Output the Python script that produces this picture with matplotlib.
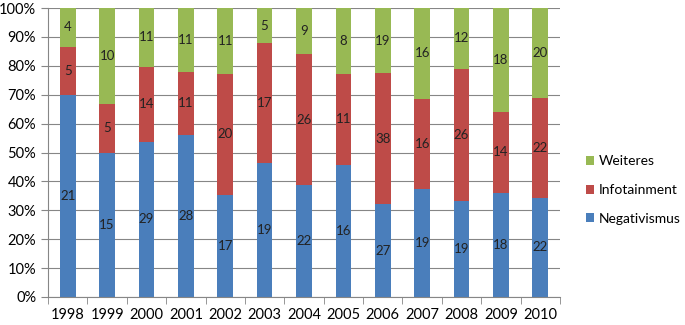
import matplotlib.pyplot as plt
import numpy as np

years = ["1998", "1999", "2000", "2001", "2002", "2003", "2004",
         "2005", "2006", "2007", "2008", "2009", "2010"]
negativismus = [21, 15, 29, 28, 17, 19, 22, 16, 27, 19, 19, 18, 22]
infotainment = [5, 5, 14, 11, 20, 17, 26, 11, 38, 16, 26, 14, 22]
weiteres = [4, 10, 11, 11, 11, 5, 9, 8, 19, 16, 12, 18, 20]

plt.rcParams['font.family'] = ['Lato', 'DejaVu Sans']

fig = plt.figure(figsize=(6.85, 3.25), dpi=100)
ax = fig.add_axes([48 / 685, 28 / 325, 512 / 685, 289 / 325])

neg = np.array(negativismus, dtype=float)
inf = np.array(infotainment, dtype=float)
wei = np.array(weiteres, dtype=float)
tot = neg + inf + wei
x = np.arange(len(years))

series = [("Negativismus", neg, "#4A7EBB"),
          ("Infotainment", inf, "#BE4B48"),
          ("Weiteres", wei, "#98B954")]
bottom = np.zeros(len(years))
handles = []
for name, vals, col in series:
    frac = vals / tot
    b = ax.bar(x, frac, 0.4, bottom=bottom, color=col, label=name, zorder=2)
    handles.append(b)
    for xi, f, bo, v in zip(x, frac, bottom, vals):
        ax.text(xi, bo + f / 2, str(int(v)), ha="center", va="center",
                fontsize=9.5, color="#222222", zorder=3)
    bottom = bottom + frac

ax.set_xlim(-0.5, len(years) - 0.5)
ax.set_ylim(0, 1)
ax.set_yticks(np.arange(0, 1.01, 0.1))
ax.set_yticklabels([f"{int(round(v * 100))}%" for v in np.arange(0, 1.01, 0.1)])
ax.set_xticks(x)
ax.set_xticklabels(years)
ax.set_xticks(np.arange(-0.5, len(years), 1), minor=True)
ax.tick_params(axis="x", which="major", length=0, pad=8, labelsize=10.5)
ax.tick_params(axis="x", which="minor", length=5, color="#868686")
ax.tick_params(axis="y", length=5, color="#868686", labelsize=10.5)
ax.yaxis.grid(True, color="#868686", linewidth=0.8, zorder=0)
for s in ["top", "right"]:
    ax.spines[s].set_visible(False)
for s in ["left", "bottom"]:
    ax.spines[s].set_color("#868686")

fig.legend(handles[::-1], [h.get_label() for h in handles[::-1]],
           loc="center left", bbox_to_anchor=(586 / 685, 0.415),
           frameon=False, fontsize=10, handlelength=0.6, handleheight=0.6,
           labelspacing=1.2, handletextpad=0.35, borderaxespad=0,
           borderpad=0)

fig.savefig("out.png", dpi=100)
